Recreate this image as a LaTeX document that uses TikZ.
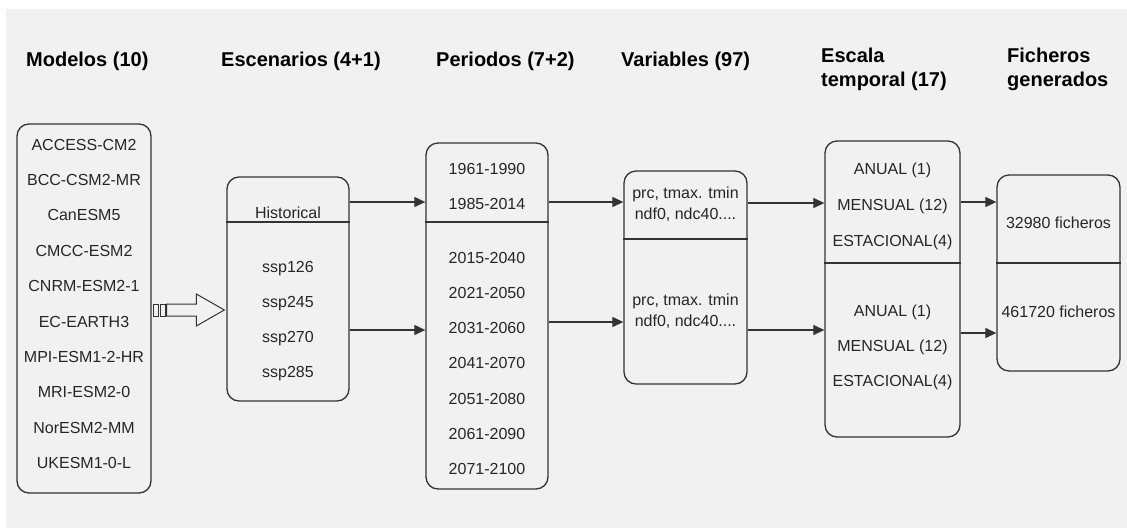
\documentclass[tikz,border=0pt]{standalone}
\usepackage{fontspec}
\setmainfont{Liberation Sans}
\usetikzlibrary{arrows.meta, positioning, calc}
\definecolor{panelbg}{RGB}{241,241,241}
\definecolor{inkgray}{RGB}{51,51,51}

\begin{document}
\begin{tikzpicture}[
    x=1pt, y=-1pt,
    font=\fontsize{16}{21}\selectfont,
    head/.style={font=\fontsize{20}{24}\selectfont\bfseries, text=black, inner sep=0pt, align=left},
    panel/.style={rectangle, draw=inkgray, line width=1.3pt, rounded corners=12pt},
    item/.style={text=black!85, inner sep=0pt, text height=11.5pt, text depth=3.5pt, on grid},
    multi/.style={text=black!85, inner sep=0pt, align=center},
    divider/.style={draw=inkgray, line width=1.3pt},
    arrow/.style={-{Triangle[length=11pt, width=10pt]}, line width=1.2pt, draw=inkgray},
    hollow/.style={draw=inkgray, line width=1pt, fill=panelbg}
]

% Background
\useasboundingbox (0,0) rectangle (1127,528);
\fill[white] (0,0) rectangle (1127,528);
\fill[panelbg] (6,9) rectangle (1127,528);

% Headers
\node[head, anchor=base west] (h_mod) at (26,66) {Modelos (10)};
\node[head, anchor=base west] (h_scen) at (221,66) {Escenarios (4+1)};
\node[head, anchor=base west] (h_per) at (436,66) {Periodos (7+2)};
\node[head, anchor=base west] (h_var) at (621,66) {Variables (97)};
\node[head, anchor=north west] (h_esc) at (821,48) {Escala\\temporal (17)};
\node[head, anchor=north west] (h_fich) at (1007,48) {Ficheros\\generados};

% Boxes
\node[panel, minimum width=134pt, minimum height=369pt] (models) at (84,308.5) {};
\node[panel, minimum width=122pt, minimum height=224pt] (scen) at (288,289) {};
\node[panel, minimum width=122pt, minimum height=346pt] (per) at (487,316) {};
\node[panel, minimum width=123pt, minimum height=213pt] (vars) at (685.5,277.5) {};
\node[panel, minimum width=135pt, minimum height=296pt] (esc) at (892.5,289) {};
\node[panel, minimum width=123pt, minimum height=196pt] (fich) at (1058.5,273) {};

\draw[divider] (scen.west |- 0,222) -- (scen.east |- 0,222);
\draw[divider] (per.west |- 0,222) -- (per.east |- 0,222);
\draw[divider] (vars.west |- 0,239) -- (vars.east |- 0,239);
\draw[divider] (esc.west |- 0,263) -- (esc.east |- 0,263);
\draw[divider] (fich.west |- 0,263) -- (fich.east |- 0,263);

% Models
\node[item] (m1) at (84,146) {ACCESS-CM2};
\node[item, below=35.4pt of m1] (m2) {BCC-CSM2-MR};
\node[item, below=35.4pt of m2] (m3) {CanESM5};
\node[item, below=35.4pt of m3] (m4) {CMCC-ESM2};
\node[item, below=35.4pt of m4] (m5) {CNRM-ESM2-1};
\node[item, below=35.4pt of m5] (m6) {EC-EARTH3};
\node[item, below=35.4pt of m6] (m7) {MPI-ESM1-2-HR};
\node[item, below=35.4pt of m7] (m8) {MRI-ESM2-0};
\node[item, below=35.4pt of m8] (m9) {NorESM2-MM};
\node[item, below=35.4pt of m9] (m10) {UKESM1-0-L};

% Scenarios
\node[item] (s0) at (288,214) {Historical};
\node[item] (s1) at (288,268) {ssp126};
\node[item, below=35pt of s1] (s2) {ssp245};
\node[item, below=35pt of s2] (s3) {ssp270};
\node[item, below=35pt of s3] (s4) {ssp285};

% Periods
\node[item] (p1) at (487,170) {1961-1990};
\node[item, below=35pt of p1] (p2) {1985-2014};
\node[item] (p3) at (487,259) {2015-2040};
\node[item, below=35.3pt of p3] (p4) {2021-2050};
\node[item, below=35.3pt of p4] (p5) {2031-2060};
\node[item, below=35.3pt of p5] (p6) {2041-2070};
\node[item, below=35.3pt of p6] (p7) {2051-2080};
\node[item, below=35.3pt of p7] (p8) {2061-2090};
\node[item, below=35.3pt of p8] (p9) {2071-2100};

% Variables
\node[multi] (v1) at (685.5,204) {prc, tmax. tmin\\ndf0, ndc40....};
\node[multi] (v2) at (685.5,311) {prc, tmax. tmin\\ndf0, ndc40....};

% Time scale
\node[item] (e1) at (892.5,170) {ANUAL (1)};
\node[item, below=36pt of e1] (e2) {MENSUAL (12)};
\node[item, below=36pt of e2] (e3) {ESTACIONAL(4)};
\node[item] (e4) at (892.5,312) {ANUAL (1)};
\node[item, below=35pt of e4] (e5) {MENSUAL (12)};
\node[item, below=35pt of e5] (e6) {ESTACIONAL(4)};

% Files
\node[item] (f1) at (1058.5,224) {32980 ficheros};
\node[item] (f2) at (1058.5,313) {461720 ficheros};

% Connections
\draw[arrow] (scen.east |- 0,202) -- (per.west |- 0,202);
\draw[arrow] (scen.east |- 0,330) -- (per.west |- 0,330);
\draw[arrow] (per.east |- 0,202) -- (vars.west |- 0,202);
\draw[arrow] (per.east |- 0,322) -- (vars.west |- 0,322);
\draw[arrow] (vars.east |- 0,203) -- (esc.west |- 0,203);
\draw[arrow] (vars.east |- 0,330) -- (esc.west |- 0,330);
\draw[arrow] (esc.east |- 0,202) -- (fich.west |- 0,202);
\draw[arrow] (esc.east |- 0,333) -- (fich.west |- 0,333);

% Hollow arrow models -> scenarios
\coordinate (fat_l) at (models.east |- 0,310);
\coordinate (fat_r) at (scen.west |- 0,310);
\draw[hollow] ($(fat_l)+(15,-6)$) -- ($(fat_r)+(-30,-6)$) -- ($(fat_r)+(-30,-16)$) -- ($(fat_r)+(-2,0)$) -- ($(fat_r)+(-30,16)$) -- ($(fat_r)+(-30,6)$) -- ($(fat_l)+(15,6)$) -- cycle;
\draw[hollow] ($(fat_l)+(2,-6)$) rectangle ($(fat_l)+(7,6)$);
\draw[hollow] ($(fat_l)+(8.5,-6)$) rectangle ($(fat_l)+(13.5,6)$);

\end{tikzpicture}
\end{document}
